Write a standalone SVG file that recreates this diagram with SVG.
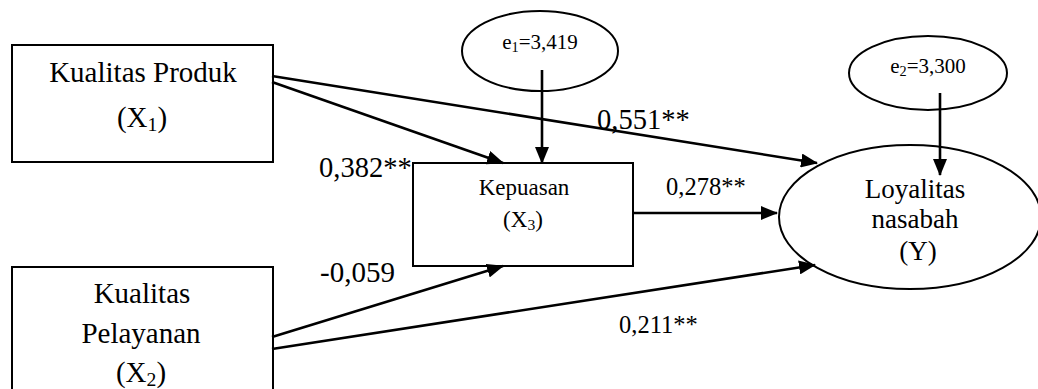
<svg xmlns="http://www.w3.org/2000/svg" width="1038" height="389" viewBox="0 0 1038 389">
<style>
.box{fill:#fff;stroke:#000;stroke-width:2}
.t{font-family:"Liberation Serif","Times New Roman",serif;fill:#000;text-anchor:middle}
.c{stroke:#000;stroke-width:2.6;fill:none;marker-end:url(#ah)}
.sub{font-size:0.68em}
</style>
<defs>
<marker id="ah" markerUnits="userSpaceOnUse" markerWidth="17" markerHeight="14" refX="16" refY="7" orient="auto">
<path d="M0,0 L17,7 L0,14 z" fill="#000"/>
</marker>
</defs>
<g id="node-x1">
<rect class="box" x="12" y="45" width="261" height="117"/>
<text class="t" x="143" y="82" font-size="29">Kualitas Produk</text>
<text class="t" x="142" y="127" font-size="29">(X<tspan class="sub" dy="4">1</tspan><tspan dy="-4">)</tspan></text>
</g>
<g id="node-x2">
<rect class="box" x="12" y="267" width="261" height="135"/>
<text class="t" x="142" y="303" font-size="29">Kualitas</text>
<text class="t" x="141" y="343" font-size="29">Pelayanan</text>
<text class="t" x="141" y="382" font-size="29">(X<tspan class="sub" dy="4">2</tspan><tspan dy="-4">)</tspan></text>
</g>
<g id="node-x3">
<rect class="box" x="413" y="163" width="220" height="103"/>
<text class="t" x="524" y="195" font-size="23">Kepuasan</text>
<text class="t" x="523" y="227" font-size="23">(X<tspan class="sub" dy="3">3</tspan><tspan dy="-3">)</tspan></text>
</g>
<g id="node-e1">
<ellipse class="box" cx="540" cy="51" rx="78" ry="40"/>
<text class="t" x="540" y="49" font-size="21">e<tspan class="sub" dy="3">1</tspan><tspan dy="-3">=3,419</tspan></text>
</g>
<g id="node-e2">
<ellipse class="box" cx="928" cy="73" rx="79" ry="37"/>
<text class="t" x="928" y="73" font-size="21">e<tspan class="sub" dy="3">2</tspan><tspan dy="-3">=3,300</tspan></text>
</g>
<g id="node-y">
<ellipse class="box" cx="910" cy="217" rx="131" ry="72"/>
<text class="t" x="915" y="198" font-size="27">Loyalitas</text>
<text class="t" x="915" y="228" font-size="27">nasabah</text>
<text class="t" x="918" y="260" font-size="27">(Y)</text>
</g>
<g id="connectors">
<path class="c" d="M272,76 L817,163"/>
<path class="c" d="M272,82 L503,163"/>
<path class="c" d="M542,70 L542,163"/>
<path class="c" d="M633,213 L777,213"/>
<path class="c" d="M272,337 L503,266"/>
<path class="c" d="M272,349 L815,265"/>
<path class="c" d="M940,93 L940,175"/>
</g>
<g id="labels" font-family="'Liberation Serif','Times New Roman',serif" fill="#000">
<text x="597" y="129" font-size="28.5">0,551**</text>
<text x="319" y="177" font-size="28.5">0,382**</text>
<text x="666" y="195" font-size="24.5">0,278**</text>
<text x="320" y="282" font-size="29">-0,059</text>
<text x="619" y="333" font-size="24.5">0,211**</text>
</g>
</svg>
